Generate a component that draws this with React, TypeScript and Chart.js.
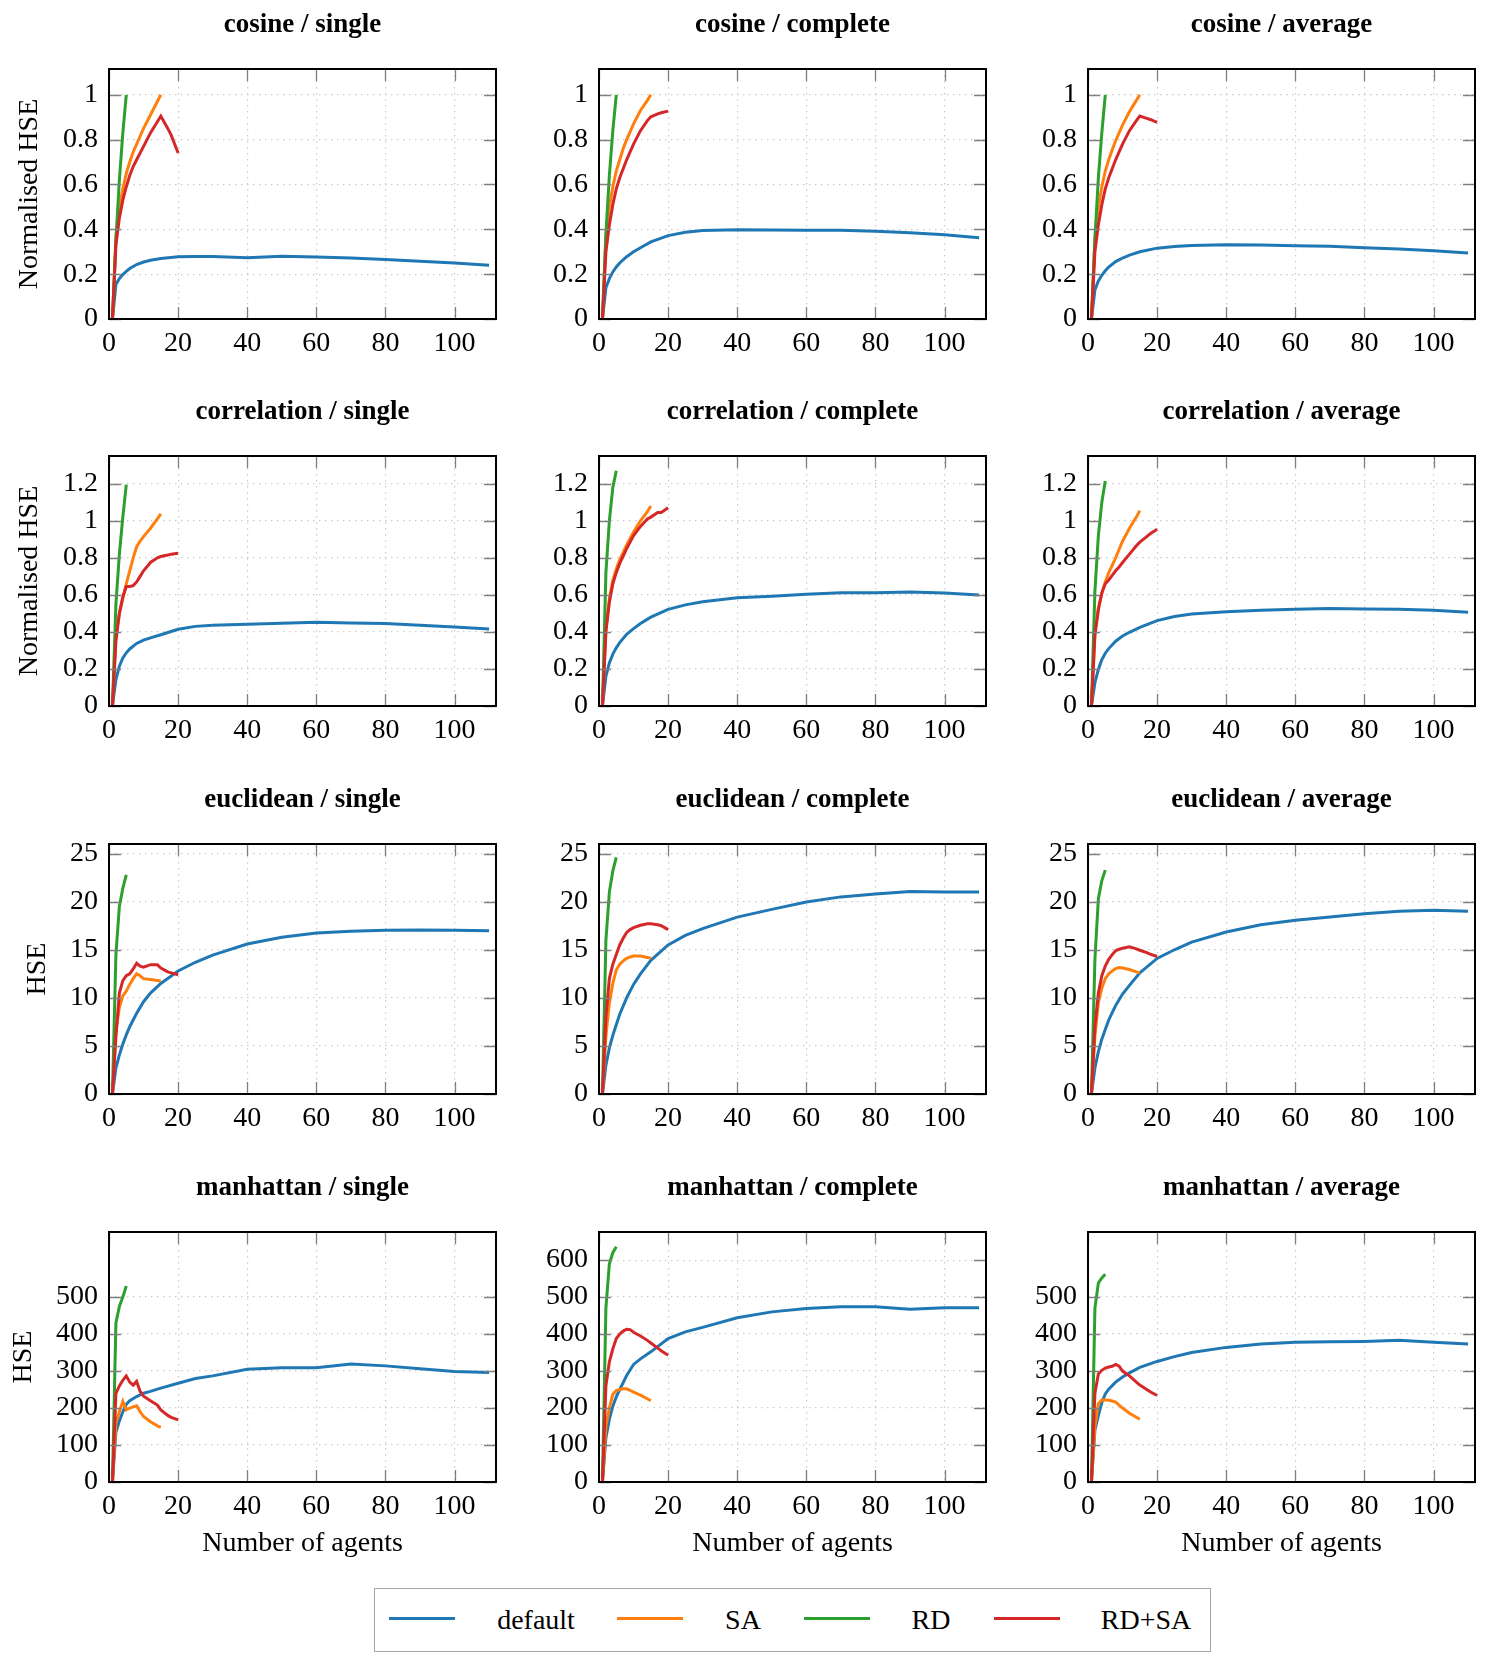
import React, { useEffect, useRef } from 'react';
import { Chart, registerables } from 'chart.js';

Chart.register(...registerables);

// ---- sample sizes (number of agents) per method ----
const AGENTS_DEFAULT = [1, 2, 3, 4, 5, 6, 8, 10, 12, 15, 20, 25, 30, 40, 50, 60, 70, 80, 90, 100, 110];
const AGENTS_SA = [1, 2, 3, 4, 5, 6, 7, 8, 9, 10, 12, 14, 15];
const AGENTS_RD = [1, 2, 3, 4, 5];
const AGENTS_RDSA = [1, 2, 3, 4, 5, 6, 7, 8, 9, 10, 12, 14, 15, 17, 18, 20];

// ---- tick labels ----
const X_TICKS = [0, 20, 40, 60, 80, 100];
const NORM_TICKS = [0, 0.2, 0.4, 0.6, 0.8, 1];
const CORR_TICKS = [0, 0.2, 0.4, 0.6, 0.8, 1, 1.2];
const EUCL_TICKS = [0, 5, 10, 15, 20, 25];
const MANH_TICKS_SHORT = [0, 100, 200, 300, 400, 500];
const MANH_TICKS_FULL = [0, 100, 200, 300, 400, 500, 600];

const SERIES_LABELS = ['default', 'SA', 'RD', 'RD+SA'];
const SERIES_COLORS = ['#1f77b4', '#ff7f0e', '#2ca02c', '#d62728'];

// ---- cosine ----
const cosineSingleDefault = [0, 0.155, 0.18, 0.198, 0.212, 0.225, 0.243, 0.254, 0.262, 0.27, 0.278, 0.279, 0.279, 0.273, 0.28, 0.277, 0.272, 0.265, 0.258, 0.25, 0.24];
const cosineSingleSA = [0, 0.37, 0.5, 0.58, 0.65, 0.7, 0.745, 0.78, 0.815, 0.85, 0.91, 0.97, 1.0];
const cosineSingleRD = [0, 0.35, 0.62, 0.83, 1.0];
const cosineSingleRDSA = [0, 0.33, 0.45, 0.53, 0.59, 0.64, 0.68, 0.71, 0.74, 0.77, 0.83, 0.88, 0.905, 0.85, 0.82, 0.74];

const cosineCompleteDefault = [0, 0.14, 0.18, 0.21, 0.232, 0.25, 0.278, 0.3, 0.318, 0.344, 0.372, 0.387, 0.395, 0.398, 0.397, 0.396, 0.396, 0.391, 0.385, 0.376, 0.362];
const cosineCompleteSA = [0, 0.37, 0.5, 0.59, 0.66, 0.71, 0.76, 0.8, 0.835, 0.87, 0.93, 0.975, 1.0];
const cosineCompleteRD = [0, 0.38, 0.64, 0.84, 1.0];
const cosineCompleteRDSA = [0, 0.3, 0.42, 0.51, 0.58, 0.63, 0.67, 0.71, 0.745, 0.78, 0.84, 0.885, 0.902, 0.915, 0.92, 0.927];

const cosineAverageDefault = [0, 0.13, 0.17, 0.195, 0.215, 0.232, 0.256, 0.272, 0.285, 0.3, 0.316, 0.323, 0.328, 0.331, 0.33, 0.327, 0.324, 0.318, 0.312, 0.304, 0.294];
const cosineAverageSA = [0, 0.36, 0.5, 0.59, 0.66, 0.71, 0.755, 0.795, 0.83, 0.865, 0.925, 0.975, 1.0];
const cosineAverageRD = [0, 0.36, 0.63, 0.83, 1.0];
const cosineAverageRDSA = [0, 0.3, 0.42, 0.51, 0.58, 0.63, 0.67, 0.71, 0.745, 0.78, 0.84, 0.885, 0.905, 0.895, 0.89, 0.877];

// ---- correlation ----
const correlationSingleDefault = [0, 0.143, 0.215, 0.26, 0.287, 0.308, 0.338, 0.356, 0.368, 0.385, 0.414, 0.43, 0.436, 0.441, 0.447, 0.452, 0.448, 0.445, 0.436, 0.427, 0.416];
const correlationSingleSA = [0, 0.38, 0.5, 0.58, 0.66, 0.73, 0.8, 0.86, 0.89, 0.915, 0.96, 1.01, 1.037];
const correlationSingleRD = [0, 0.55, 0.82, 1.02, 1.195];
const correlationSingleRDSA = [0, 0.35, 0.5, 0.59, 0.645, 0.645, 0.65, 0.67, 0.7, 0.73, 0.775, 0.8, 0.807, 0.815, 0.82, 0.825];

const correlationCompleteDefault = [0, 0.16, 0.233, 0.28, 0.314, 0.342, 0.387, 0.418, 0.445, 0.48, 0.522, 0.546, 0.563, 0.585, 0.592, 0.603, 0.612, 0.612, 0.615, 0.61, 0.599];
const correlationCompleteSA = [0, 0.42, 0.58, 0.68, 0.74, 0.79, 0.83, 0.87, 0.905, 0.94, 1.0, 1.05, 1.08];
const correlationCompleteRD = [0, 0.72, 1.0, 1.18, 1.27];
const correlationCompleteRDSA = [0, 0.4, 0.56, 0.66, 0.72, 0.77, 0.81, 0.85, 0.885, 0.92, 0.97, 1.01, 1.02, 1.045, 1.045, 1.07];

const correlationAverageDefault = [0, 0.126, 0.197, 0.25, 0.285, 0.31, 0.35, 0.378, 0.398, 0.425, 0.461, 0.483, 0.497, 0.509, 0.517, 0.522, 0.526, 0.524, 0.522, 0.517, 0.506];
const correlationAverageSA = [0, 0.4, 0.53, 0.61, 0.67, 0.72, 0.76, 0.8, 0.845, 0.89, 0.96, 1.02, 1.055];
const correlationAverageRD = [0, 0.62, 0.92, 1.1, 1.215];
const correlationAverageRDSA = [0, 0.38, 0.52, 0.61, 0.66, 0.68, 0.705, 0.73, 0.75, 0.775, 0.82, 0.865, 0.885, 0.915, 0.93, 0.955];

// ---- euclidean ----
const euclideanSingleDefault = [0, 2.7, 4.07, 5.2, 6.15, 7.0, 8.4, 9.6, 10.5, 11.5, 12.8, 13.7, 14.45, 15.6, 16.3, 16.75, 16.92, 17.02, 17.06, 17.02, 16.99];
const euclideanSingleSA = [0, 6.5, 9, 10.2, 10.7, 11.4, 12.0, 12.5, 12.3, 12.0, 11.9, 11.8, 11.75];
const euclideanSingleRD = [0, 14.5, 19.5, 21.4, 22.8];
const euclideanSingleRDSA = [0, 6, 10.5, 11.8, 12.3, 12.5, 13.0, 13.6, 13.3, 13.2, 13.45, 13.45, 13.1, 12.7, 12.6, 12.4];

const euclideanCompleteDefault = [0, 3.0, 4.8, 6.1, 7.2, 8.3, 10.0, 11.4, 12.5, 13.9, 15.5, 16.5, 17.2, 18.4, 19.2, 19.96, 20.5, 20.8, 21.06, 21.0, 21.0];
const euclideanCompleteSA = [0, 6, 9.5, 11.5, 12.9, 13.5, 13.85, 14.1, 14.25, 14.35, 14.35, 14.2, 14.15];
const euclideanCompleteRD = [0, 16, 21, 23.2, 24.6];
const euclideanCompleteRDSA = [0, 8, 12, 13.5, 14.5, 15.5, 16.2, 16.8, 17.1, 17.3, 17.55, 17.7, 17.7, 17.6, 17.5, 17.1];

const euclideanAverageDefault = [0, 2.7, 4.4, 5.7, 6.7, 7.7, 9.2, 10.4, 11.3, 12.6, 14.1, 15.0, 15.8, 16.85, 17.6, 18.06, 18.4, 18.75, 19.0, 19.1, 19.0];
const euclideanAverageSA = [0, 6, 9.5, 11, 12, 12.5, 12.8, 13.05, 13.15, 13.1, 12.95, 12.7, 12.6];
const euclideanAverageRD = [0, 14, 20.3, 22.2, 23.3];
const euclideanAverageRDSA = [0, 7, 10.5, 12.3, 13.3, 14, 14.5, 14.9, 15.05, 15.15, 15.3, 15.1, 14.95, 14.7, 14.55, 14.3];

// ---- manhattan ----
const manhattanSingleDefault = [0, 135, 165, 190, 210, 220, 231, 240, 245, 254, 267, 280, 287, 305, 309, 309, 319, 314, 306, 299, 296];
const manhattanSingleSA = [0, 160, 190, 218, 195, 200, 203, 206, 190, 177, 163, 152, 148];
const manhattanSingleRD = [0, 430, 475, 500, 530];
const manhattanSingleRDSA = [0, 240, 260, 275, 287, 270, 262, 272, 245, 232, 220, 208, 195, 180, 175, 168];

const manhattanCompleteDefault = [0, 120, 170, 205, 230, 250, 288, 318, 333, 352, 388, 406, 418, 444, 460, 469, 474, 474, 467, 471, 471];
const manhattanCompleteSA = [0, 150, 200, 237, 247, 250, 252, 252, 248, 243, 235, 225, 220];
const manhattanCompleteRD = [0, 470, 590, 620, 636];
const manhattanCompleteRDSA = [0, 260, 325, 360, 388, 400, 408, 413, 412, 405, 395, 383, 376, 362, 355, 343];

const manhattanAverageDefault = [0, 141, 180, 215, 238, 251, 270, 284, 295, 310, 326, 339, 350, 364, 373, 378, 379, 380, 383, 378, 373];
const manhattanAverageSA = [0, 150, 212, 222, 222, 221, 219, 216, 208, 200, 186, 175, 170];
const manhattanAverageRD = [0, 470, 538, 552, 562];
const manhattanAverageRDSA = [0, 240, 292, 302, 308, 311, 313, 318, 313, 300, 287, 270, 262, 250, 244, 234];

// ---- layout ----
const COL_LEFT = [0, 490, 979];
const ROW_TOP = [0, 387, 775, 1163];
const PLOT_LEFT = 109;
const PLOT_TOP = 69;
const PLOT_W = 387;
const PLOT_H = 250;
const CANVAS_W = 505;
const SERIF = '"Liberation Serif", "Times New Roman", serif';
const TICK_FONT = { family: SERIF, size: 28 };
const Y_TITLE_PAD = [13, 13, 21, 7];

type Panel = {
  title: string;
  row: number;
  col: number;
  yMax: number;
  yTicks: number[];
  yTitle: string;
  series: number[][];
};

const PANELS: Panel[] = [
  { title: 'cosine / single', row: 0, col: 0, yMax: 1.115, yTicks: NORM_TICKS, yTitle: 'Normalised HSE', series: [cosineSingleDefault, cosineSingleSA, cosineSingleRD, cosineSingleRDSA] },
  { title: 'cosine / complete', row: 0, col: 1, yMax: 1.115, yTicks: NORM_TICKS, yTitle: 'Normalised HSE', series: [cosineCompleteDefault, cosineCompleteSA, cosineCompleteRD, cosineCompleteRDSA] },
  { title: 'cosine / average', row: 0, col: 2, yMax: 1.115, yTicks: NORM_TICKS, yTitle: 'Normalised HSE', series: [cosineAverageDefault, cosineAverageSA, cosineAverageRD, cosineAverageRDSA] },
  { title: 'correlation / single', row: 1, col: 0, yMax: 1.35, yTicks: CORR_TICKS, yTitle: 'Normalised HSE', series: [correlationSingleDefault, correlationSingleSA, correlationSingleRD, correlationSingleRDSA] },
  { title: 'correlation / complete', row: 1, col: 1, yMax: 1.35, yTicks: CORR_TICKS, yTitle: 'Normalised HSE', series: [correlationCompleteDefault, correlationCompleteSA, correlationCompleteRD, correlationCompleteRDSA] },
  { title: 'correlation / average', row: 1, col: 2, yMax: 1.35, yTicks: CORR_TICKS, yTitle: 'Normalised HSE', series: [correlationAverageDefault, correlationAverageSA, correlationAverageRD, correlationAverageRDSA] },
  { title: 'euclidean / single', row: 2, col: 0, yMax: 26, yTicks: EUCL_TICKS, yTitle: 'HSE', series: [euclideanSingleDefault, euclideanSingleSA, euclideanSingleRD, euclideanSingleRDSA] },
  { title: 'euclidean / complete', row: 2, col: 1, yMax: 26, yTicks: EUCL_TICKS, yTitle: 'HSE', series: [euclideanCompleteDefault, euclideanCompleteSA, euclideanCompleteRD, euclideanCompleteRDSA] },
  { title: 'euclidean / average', row: 2, col: 2, yMax: 26, yTicks: EUCL_TICKS, yTitle: 'HSE', series: [euclideanAverageDefault, euclideanAverageSA, euclideanAverageRD, euclideanAverageRDSA] },
  { title: 'manhattan / single', row: 3, col: 0, yMax: 676, yTicks: MANH_TICKS_SHORT, yTitle: 'HSE', series: [manhattanSingleDefault, manhattanSingleSA, manhattanSingleRD, manhattanSingleRDSA] },
  { title: 'manhattan / complete', row: 3, col: 1, yMax: 676, yTicks: MANH_TICKS_FULL, yTitle: 'HSE', series: [manhattanCompleteDefault, manhattanCompleteSA, manhattanCompleteRD, manhattanCompleteRDSA] },
  { title: 'manhattan / average', row: 3, col: 2, yMax: 676, yTicks: MANH_TICKS_SHORT, yTitle: 'HSE', series: [manhattanAverageDefault, manhattanAverageSA, manhattanAverageRD, manhattanAverageRDSA] },
];

const SERIES_AGENTS = [AGENTS_DEFAULT, AGENTS_SA, AGENTS_RD, AGENTS_RDSA];

// Frame, inward tick marks on all four sides and the panel heading.
const framePlugin = {
  id: 'pgfFrame',
  afterDraw(chart: any) {
    const { ctx, chartArea: a, scales } = chart;
    const TL = 12;
    ctx.save();
    ctx.strokeStyle = '#7f7f7f';
    ctx.lineWidth = 1.3;
    ctx.beginPath();
    for (const t of scales.x.ticks) {
      const px = Math.round(scales.x.getPixelForValue(t.value)) + 0.5;
      ctx.moveTo(px, a.bottom);
      ctx.lineTo(px, a.bottom - TL);
      ctx.moveTo(px, a.top);
      ctx.lineTo(px, a.top + TL);
    }
    for (const t of scales.y.ticks) {
      const py = Math.round(scales.y.getPixelForValue(t.value)) + 0.5;
      ctx.moveTo(a.left, py);
      ctx.lineTo(a.left + TL, py);
      ctx.moveTo(a.right, py);
      ctx.lineTo(a.right - TL, py);
    }
    ctx.stroke();
    ctx.strokeStyle = '#000';
    ctx.lineWidth = 2;
    ctx.strokeRect(a.left, a.top, a.right - a.left, a.bottom - a.top);
    const title = chart.options.plugins.pgfFrame.title;
    ctx.fillStyle = '#000';
    ctx.font = `bold 27px ${SERIF}`;
    ctx.textAlign = 'center';
    ctx.textBaseline = 'middle';
    ctx.fillText(title, (a.left + a.right) / 2, a.top - 44);
    ctx.restore();
  },
};

function fmt(v: number) {
  return String(Math.round(v * 100) / 100);
}

function PanelChart({ panel }: { panel: Panel }) {
  const ref = useRef<HTMLCanvasElement>(null);
  const isBottom = panel.row === 3;
  const canvasH = isBottom ? 400 : 388;

  useEffect(() => {
    if (!ref.current) return;
    const datasets = panel.series.map((ys, i) => ({
      label: SERIES_LABELS[i],
      data: ys.map((y, j) => ({ x: SERIES_AGENTS[i][j], y })),
      borderColor: SERIES_COLORS[i],
      backgroundColor: SERIES_COLORS[i],
      borderWidth: 3,
      pointRadius: 0,
      tension: 0,
      fill: false,
      order: 3 - i,
    }));
    const yTicks = panel.yTicks;
    const gridStyle = { color: '#cacaca', lineWidth: 1.2, drawTicks: false };
    const gridBorder = { display: false, dash: [1.5, 4.5] };
    const chart = new Chart(ref.current, {
      type: 'line',
      data: { datasets },
      plugins: [framePlugin],
      options: {
        animation: false,
        responsive: false,
        devicePixelRatio: 1,
        layout: { padding: { left: 0, top: PLOT_TOP, right: CANVAS_W - PLOT_LEFT - PLOT_W, bottom: 0 } },
        plugins: {
          legend: { display: false },
          tooltip: { enabled: false },
          title: { display: false },
          pgfFrame: { title: panel.title },
        } as any,
        scales: {
          x: {
            type: 'linear',
            min: 0,
            max: 112,
            afterBuildTicks: (s: any) => {
              s.ticks = X_TICKS.map((v) => ({ value: v }));
            },
            afterFit: (s: any) => {
              s.height = canvasH - PLOT_TOP - PLOT_H;
            },
            grid: gridStyle,
            border: gridBorder,
            ticks: {
              padding: 8,
              color: '#000',
              font: TICK_FONT,
              maxRotation: 0,
              autoSkip: false,
              callback: (v: any) => fmt(Number(v)),
            },
            title: {
              display: isBottom,
              text: 'Number of agents',
              color: '#000',
              font: TICK_FONT,
              padding: { top: 0, bottom: 3 },
            },
          },
          y: {
            type: 'linear',
            min: 0,
            max: panel.yMax,
            afterBuildTicks: (s: any) => {
              s.ticks = yTicks.map((v) => ({ value: v }));
            },
            afterFit: (s: any) => {
              s.width = PLOT_LEFT;
            },
            grid: gridStyle,
            border: gridBorder,
            ticks: {
              padding: 11,
              color: '#000',
              font: TICK_FONT,
              autoSkip: false,
              callback: (v: any) => fmt(Number(v)),
            },
            title: {
              display: panel.col === 0,
              text: panel.yTitle,
              color: '#000',
              font: TICK_FONT,
              padding: { top: Y_TITLE_PAD[panel.row], bottom: 0 },
            },
          },
        },
      } as any,
    });
    return () => chart.destroy();
  }, []);

  return (
    <canvas
      ref={ref}
      width={CANVAS_W}
      height={canvasH}
      style={{
        position: 'absolute',
        left: COL_LEFT[panel.col],
        top: ROW_TOP[panel.row],
        width: CANVAS_W,
        height: canvasH,
      }}
    />
  );
}

const LEGEND_LINE_X = [388, 616, 803, 993];
const LEGEND_TEXT_X = [535, 742, 930, 1145];

function Legend() {
  const boxLeft = 374;
  const boxTop = 1588;
  return (
    <div
      style={{
        position: 'absolute',
        left: boxLeft,
        top: boxTop,
        width: 837,
        height: 64,
        border: '1.5px solid #a6a6a6',
        boxSizing: 'border-box',
        fontFamily: SERIF,
        fontSize: 28,
        color: '#000',
      }}
    >
      {SERIES_LABELS.map((label, i) => (
        <React.Fragment key={label}>
          <div
            style={{
              position: 'absolute',
              left: LEGEND_LINE_X[i] - boxLeft,
              top: 28,
              width: 66,
              height: 3,
              background: SERIES_COLORS[i],
            }}
          />
          <div
            style={{
              position: 'absolute',
              left: LEGEND_TEXT_X[i] - boxLeft - 100,
              top: 0,
              width: 200,
              height: 61,
              lineHeight: '61px',
              textAlign: 'center',
            }}
          >
            {label}
          </div>
        </React.Fragment>
      ))}
    </div>
  );
}

export default function App() {
  return (
    <div
      style={{
        position: 'absolute',
        left: 0,
        top: 0,
        width: 1489,
        height: 1665,
        background: '#fff',
        overflow: 'hidden',
      }}
    >
      {PANELS.map((p) => (
        <PanelChart key={p.title} panel={p} />
      ))}
      <Legend />
    </div>
  );
}
